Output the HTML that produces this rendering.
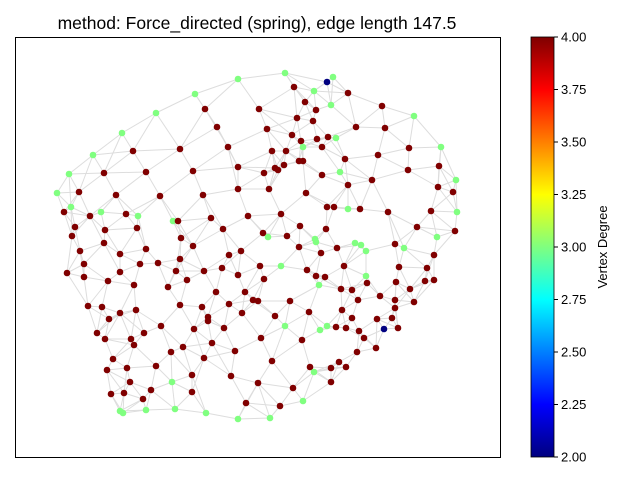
<!DOCTYPE html>
<html><head><meta charset="utf-8"><style>
body{margin:0;background:#fff;font-family:"Liberation Sans","DejaVu Sans",sans-serif;}
svg{display:block}
</style></head><body>
<svg id="chart" width="640" height="480" xmlns="http://www.w3.org/2000/svg">
<defs><linearGradient id="jet" x1="0" y1="1" x2="0" y2="0">
<stop offset="0" stop-color="#00007f"/><stop offset="0.125" stop-color="#0000ff"/><stop offset="0.375" stop-color="#00ffff"/><stop offset="0.625" stop-color="#ffff00"/><stop offset="0.875" stop-color="#ff0000"/><stop offset="1" stop-color="#7f0000"/></linearGradient></defs>
<text x="257" y="29" font-size="17.5" text-anchor="middle" fill="#000">method: Force_directed (spring), edge length 147.5</text>
<g id="edges"></g>
<g id="nodes"></g>
<rect x="15.5" y="37.5" width="485" height="420" fill="none" stroke="#000" stroke-width="1"/>
<rect x="531" y="37" width="23" height="420" fill="url(#jet)" stroke="#000" stroke-width="0.8"/>
<g id="cbticks"></g>
<text transform="translate(607,247) rotate(-90)" font-size="13" text-anchor="middle">Vertex Degree</text>
</svg>
<script>
const nodeX=[285,333,327,238,294,314,348,195,305,331,316,382,156,259,205,297,414,313,356,385,122,217,267,328,317,292,301,336,303,441,409,93,133,180,228,272,286,303,299,322,345,378,69,104,146,193,238,275,278,284,264,322,340,372,408,439,456,57,79,116,160,203,238,269,306,348,438,453,64,71,90,101,138,126,173,211,248,281,327,334,348,388,360,431,457,75,105,137,178,223,263,300,326,417,455,72,104,146,181,193,268,315,287,316,355,361,395,404,437,80,120,158,180,229,241,299,321,366,337,434,84,140,204,222,260,281,307,344,399,427,108,120,176,187,238,264,316,325,366,367,396,425,434,67,84,134,168,216,245,319,341,352,410,88,102,136,180,202,229,253,258,290,358,380,395,414,395,109,120,161,208,208,242,275,309,342,352,377,392,97,105,144,194,224,285,320,327,336,346,384,398,359,131,134,183,212,235,261,302,364,376,113,156,171,204,272,339,357,346,107,127,192,231,310,314,331,130,172,258,293,331,151,111,124,192,303,143,246,120,123,146,175,206,280,238,270];
const nodeY=[73,77,82,79,87,91,93,94,102,105,110,106,113,109,109,118,116,121,127,128,133,127,129,137,139,135,141,138,147,147,148,155,151,149,147,151,151,161,161,147,159,155,174,173,172,171,167,168,170,165,173,175,172,180,170,166,180,193,192,195,196,195,189,189,193,185,187,192,212,207,216,212,216,214,221,218,216,214,207,207,209,212,209,211,212,227,230,228,221,229,233,226,229,227,231,236,243,249,238,246,237,239,236,242,243,245,244,248,237,251,254,263,259,255,251,247,253,251,248,255,264,264,271,268,266,266,270,266,267,268,281,272,271,280,275,279,276,277,276,283,282,281,280,273,277,285,287,292,292,285,289,290,289,306,307,310,305,307,304,300,301,301,300,296,300,302,308,319,313,326,317,321,313,316,312,310,318,319,318,333,339,333,329,328,326,330,326,327,328,329,328,331,339,345,347,343,351,338,340,338,348,359,366,352,358,361,362,352,367,370,368,375,376,367,372,368,382,382,383,388,382,390,394,393,392,401,399,403,411,413,410,409,413,406,419,418];
const nodeDeg=[3,3,2,3,4,3,4,3,4,3,4,4,3,4,4,4,3,4,4,4,3,4,4,4,4,4,4,3,3,3,4,3,4,4,4,4,4,4,4,4,4,4,3,4,4,4,4,4,4,4,4,4,3,4,4,4,3,3,4,4,4,4,4,4,4,4,4,4,4,3,4,3,3,4,3,4,4,4,4,4,3,4,4,4,3,4,4,4,4,4,4,4,4,4,4,4,4,4,4,4,3,3,4,3,3,3,4,3,3,4,4,4,4,4,4,4,4,3,4,4,4,4,4,4,4,3,4,4,4,4,4,4,4,4,4,4,4,4,3,4,4,4,4,4,4,4,4,4,4,3,4,4,4,4,4,4,4,4,4,4,4,4,4,4,4,4,4,4,4,4,4,4,4,4,4,4,4,4,4,4,4,4,4,4,3,3,3,4,4,2,4,4,4,4,4,4,4,4,4,4,4,4,4,4,4,4,4,4,4,4,4,4,4,4,3,4,4,3,4,4,4,4,4,4,4,3,4,4,3,3,3,3,3,4,3,3];
const tickVals=[2.00,2.25,2.50,2.75,3.00,3.25,3.50,3.75,4.00];
const NS="http://www.w3.org/2000/svg";
const vmin=2,vmax=4,cbTop=37,cbBot=457;
function cy(v){return cbBot-(v-vmin)/(vmax-vmin)*(cbBot-cbTop);}
function jet(v){const t=(v-vmin)/(vmax-vmin);
 const r=Math.min(Math.max(Math.min(4*t-1.5,-4*t+4.5),0),1),g=Math.min(Math.max(Math.min(4*t-0.5,-4*t+3.5),0),1),b=Math.min(Math.max(Math.min(4*t+0.5,-4*t+2.5),0),1);
 return `rgb(${Math.round(r*255)},${Math.round(g*255)},${Math.round(b*255)})`;}
const eg=document.getElementById('edges'),ng=document.getElementById('nodes'),tg=document.getElementById('cbticks');
const n=nodeX.length,seen=new Set();
for(let i=0;i<n;i++){
 const d=[];for(let j=0;j<n;j++){if(j!==i)d.push([Math.hypot(nodeX[i]-nodeX[j],nodeY[i]-nodeY[j]),j]);}
 d.sort((a,b)=>a[0]-b[0]);
 for(let k=0;k<nodeDeg[i]+1;k++){const j=d[k][1];if(d[k][0]>48)break;const key=Math.min(i,j)+'-'+Math.max(i,j);if(seen.has(key))continue;seen.add(key);
  const l=document.createElementNS(NS,'line');
  l.setAttribute('x1',nodeX[i]);l.setAttribute('y1',nodeY[i]);l.setAttribute('x2',nodeX[j]);l.setAttribute('y2',nodeY[j]);
  l.setAttribute('stroke','#dddddd');l.setAttribute('stroke-width','1');
  
  
  eg.appendChild(l);}
}
for(let i=0;i<n;i++){
 const c=document.createElementNS(NS,'circle');
 c.setAttribute('cx',nodeX[i]);c.setAttribute('cy',nodeY[i]);c.setAttribute('r','3.3');c.setAttribute('fill',jet(nodeDeg[i]));
 
 
 ng.appendChild(c);
}
tickVals.forEach(v=>{const y=cy(v);
 const l=document.createElementNS(NS,'line');l.setAttribute('x1',554);l.setAttribute('x2',558);l.setAttribute('y1',y);l.setAttribute('y2',y);l.setAttribute('stroke','#000');
 
 
 tg.appendChild(l);
 const t=document.createElementNS(NS,'text');t.setAttribute('x',561);t.setAttribute('y',y+4.5);t.setAttribute('font-size','13');t.textContent=v.toFixed(2);
 
 
 tg.appendChild(t);
});
</script>
</body></html>
